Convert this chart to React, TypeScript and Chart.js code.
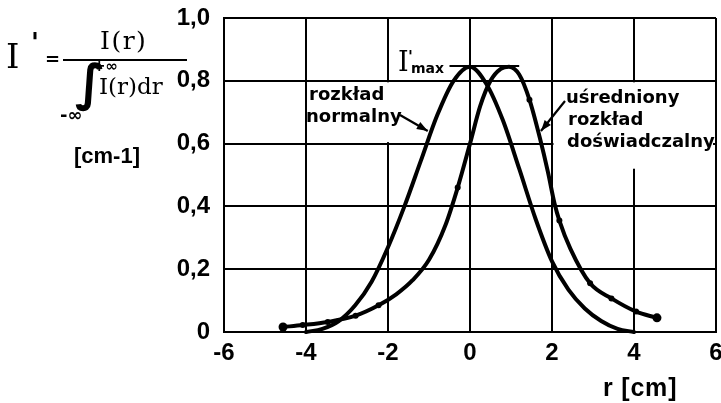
import React, { useEffect, useRef } from 'react';
import { Chart, registerables } from 'chart.js';
Chart.register(...registerables);

// ---- data ----
const xTickLabels = ['-6', '-4', '-2', '0', '2', '4', '6'];
const yTickLabels = ['0', '0,2', '0,4', '0,6', '0,8', '1,0'];

// "rozkład normalny"
const normalX = [-4.0, -3.6, -3.2, -2.8, -2.4, -2.0, -1.6, -1.2, -0.8, -0.4, 0.0, 0.4, 0.8, 1.2, 1.6, 2.0, 2.4, 2.8, 3.2, 3.6, 4.0];
const normalY = [0.0, 0.01, 0.035, 0.085, 0.16, 0.27, 0.4, 0.545, 0.69, 0.8, 0.845, 0.79, 0.675, 0.52, 0.36, 0.225, 0.135, 0.075, 0.035, 0.01, 0.0];

// "uśredniony rozkład doświadczalny"
const expX = [-4.56, -4.08, -3.47, -2.79, -2.23, -1.8, -1.4, -1.0, -0.6, -0.3, 0.0, 0.25, 0.5, 0.75, 0.95, 1.2, 1.45, 1.7, 1.9, 2.06, 2.18, 2.45, 2.93, 3.45, 4.05, 4.56];
const expY = [0.016, 0.022, 0.032, 0.052, 0.085, 0.12, 0.165, 0.23, 0.34, 0.46, 0.6, 0.72, 0.8, 0.838, 0.845, 0.82, 0.74, 0.62, 0.51, 0.41, 0.355, 0.265, 0.155, 0.107, 0.065, 0.045];
const expMeasured = [true, true, true, true, true, false, false, false, false, true, false, false, false, false, false, false, true, false, false, false, true, false, true, true, true, true];

const iMaxValue = 0.847;

const FONT = 'DejaVu Sans';
const TICKFONT = '"Liberation Sans Narrow", "Liberation Sans"';
const SERIF = 'DejaVu Serif';

function arrow(ctx: CanvasRenderingContext2D, x0: number, y0: number, x1: number, y1: number) {
  ctx.save();
  ctx.strokeStyle = '#000';
  ctx.fillStyle = '#000';
  ctx.lineWidth = 2.2;
  ctx.beginPath();
  ctx.moveTo(x0, y0);
  ctx.lineTo(x1, y1);
  ctx.stroke();
  const a = Math.atan2(y1 - y0, x1 - x0);
  const L = 11, W = 4;
  ctx.beginPath();
  ctx.moveTo(x1, y1);
  ctx.lineTo(x1 - L * Math.cos(a) + W * Math.sin(a), y1 - L * Math.sin(a) - W * Math.cos(a));
  ctx.lineTo(x1 - L * Math.cos(a) - W * Math.sin(a), y1 - L * Math.sin(a) + W * Math.cos(a));
  ctx.closePath();
  ctx.fill();
  ctx.restore();
}

const annotPlugin = {
  id: 'annot',
  beforeDatasetsDraw(chart: any) {
    const { ctx } = chart;
    const xs = chart.scales.x, ys = chart.scales.y;
    ctx.save();
    ctx.fillStyle = '#fff';
    let x0 = xs.getPixelForValue(-4) + 1.5, x1 = xs.getPixelForValue(-1.4);
    let y0 = ys.getPixelForValue(0.8) + 1.5, y1 = ys.getPixelForValue(0.6) - 1.5;
    ctx.fillRect(x0, y0, x1 - x0, y1 - y0);
    x0 = xs.getPixelForValue(2) + 1.5; x1 = xs.getPixelForValue(6) - 3;
    y0 = ys.getPixelForValue(0.8) + 1.5; y1 = ys.getPixelForValue(0.52);
    ctx.fillRect(x0, y0, x1 - x0, y1 - y0);
    ctx.restore();
  },
  afterDatasetsDraw(chart: any) {
    const { ctx } = chart;
    const xs = chart.scales.x, ys = chart.scales.y;
    const px = (v: number) => xs.getPixelForValue(v);
    const py = (v: number) => ys.getPixelForValue(v);
    ctx.save();
    ctx.fillStyle = '#000';
    ctx.textAlign = 'left';
    ctx.textBaseline = 'alphabetic';
    ctx.font = `bold 18px "${FONT}"`;
    ctx.fillText('rozkład', 309, 100);
    ctx.fillText('normalny', 306, 122);
    ctx.fillText('uśredniony', 566, 103);
    ctx.fillText('rozkład', 568, 125);
    ctx.fillText('doświadczalny', 567, 147);
    // arrows to the curves
    arrow(ctx, 400, 115, px(-1.03), py(0.64));
    arrow(ctx, 565, 101, px(1.73), py(0.64));
    // I'max
    ctx.font = `27px "${SERIF}"`;
    ctx.fillText('I', 398, 71);
    ctx.font = `bold 16px "${FONT}"`;
    ctx.fillText("'", 408, 62);
    ctx.font = `bold 14px "${FONT}"`;
    ctx.fillText('max', 411, 73);
    ctx.strokeStyle = '#000';
    ctx.lineWidth = 2;
    ctx.beginPath();
    ctx.moveTo(px(-0.5), py(iMaxValue));
    ctx.lineTo(px(1.2), py(iMaxValue));
    ctx.stroke();
    ctx.restore();
  },
  afterDraw(chart: any) {
    const { ctx } = chart;
    ctx.save();
    ctx.fillStyle = '#000';
    ctx.strokeStyle = '#000';
    ctx.textBaseline = 'alphabetic';
    ctx.textAlign = 'left';
    // formula
    ctx.font = `34px "${SERIF}"`;
    ctx.fillText('I', 6, 68);
    ctx.font = `bold 26px "${FONT}"`;
    ctx.fillText("'", 31, 52);
    ctx.font = `bold 18px "${FONT}"`;
    ctx.fillText('=', 45, 65);
    ctx.lineWidth = 2;
    ctx.beginPath();
    ctx.moveTo(63, 60);
    ctx.lineTo(187, 60);
    ctx.stroke();
    ctx.font = `25px "${SERIF}"`;
    (ctx as any).letterSpacing = '1.5px';
    ctx.fillText('I(r)', 100, 49);
    (ctx as any).letterSpacing = '0px';
    ctx.font = `bold 50px "${FONT}"`;
    ctx.fillText('∫', 75, 100);
    ctx.font = `bold 15px "${FONT}"`;
    ctx.fillText('+∞', 93, 71);
    ctx.font = `23px "${SERIF}"`;
    ctx.fillText('I(r)dr', 99, 94);
    ctx.font = `bold 18px "${FONT}"`;
    ctx.fillText('-∞', 60, 121);
    ctx.font = `bold 22px "Liberation Sans"`;
    ctx.fillText('[cm-1]', 74, 163);
    // axis title
    ctx.font = `bold 25px "Liberation Sans"`;
    (ctx as any).letterSpacing = '0.8px';
    ctx.fillText('r [cm]', 603, 396);
    ctx.restore();
  },
};

export default function App() {
  const ref = useRef<HTMLCanvasElement>(null);
  useEffect(() => {
    if (!ref.current) return;
    const normalData = normalX.map((x, i) => ({ x, y: normalY[i] }));
    const expData = expX.map((x, i) => ({ x, y: expY[i] }));
    const last = expX.length - 1;
    const chart = new Chart(ref.current, {
      type: 'line',
      data: {
        datasets: [
          {
            label: 'rozkład normalny',
            data: normalData,
            borderColor: '#000',
            borderWidth: 4,
            pointRadius: 0,
            cubicInterpolationMode: 'monotone',
            borderCapStyle: 'round',
            borderJoinStyle: 'round',
            clip: false,
          } as any,
          {
            label: 'uśredniony rozkład doświadczalny',
            data: expData,
            borderColor: '#000',
            borderWidth: 4,
            pointRadius: (c: any) => (expMeasured[c.dataIndex] ? (c.dataIndex === 0 || c.dataIndex === last ? 4.5 : 3) : 0),
            pointBackgroundColor: '#000',
            pointBorderWidth: 0,
            cubicInterpolationMode: 'monotone',
            borderCapStyle: 'round',
            borderJoinStyle: 'round',
            clip: false,
          } as any,
        ],
      },
      options: {
        animation: false,
        responsive: false,
        events: [],
        layout: { padding: { top: 18, right: 5, left: 0, bottom: 0 } },
        plugins: { legend: { display: false }, tooltip: { enabled: false } },
        scales: {
          x: {
            type: 'linear',
            min: -6,
            max: 6,
            ticks: {
              stepSize: 2,
              color: '#000',
              font: { family: TICKFONT, size: 24, weight: 'bold' },
              padding: 7,
              maxRotation: 0,
              callback: (_v: any, i: number) => xTickLabels[i],
            },
            grid: { color: '#000', lineWidth: 2, drawTicks: false },
            border: { display: true, color: '#000', width: 2 },
            afterFit: (s: any) => {
              s.height = 71;
              s.paddingLeft = 0;
              s.paddingRight = 0;
            },
          },
          y: {
            type: 'linear',
            min: 0,
            max: 1,
            ticks: {
              stepSize: 0.2,
              color: '#000',
              font: { family: TICKFONT, size: 24, weight: 'bold' },
              padding: 14,
              callback: (_v: any, i: number) => yTickLabels[i],
            },
            grid: { color: '#000', lineWidth: 2, drawTicks: false },
            border: { display: true, color: '#000', width: 2 },
            afterFit: (s: any) => {
              s.width = 224;
              s.paddingTop = 0;
              s.paddingBottom = 0;
            },
          },
        },
      } as any,
      plugins: [annotPlugin],
    });
    return () => chart.destroy();
  }, []);
  return (
    <div style={{ position: 'fixed', left: 0, top: 0, width: 721, height: 403, background: '#fff' }}>
      <canvas ref={ref} width={721} height={403} />
    </div>
  );
}
